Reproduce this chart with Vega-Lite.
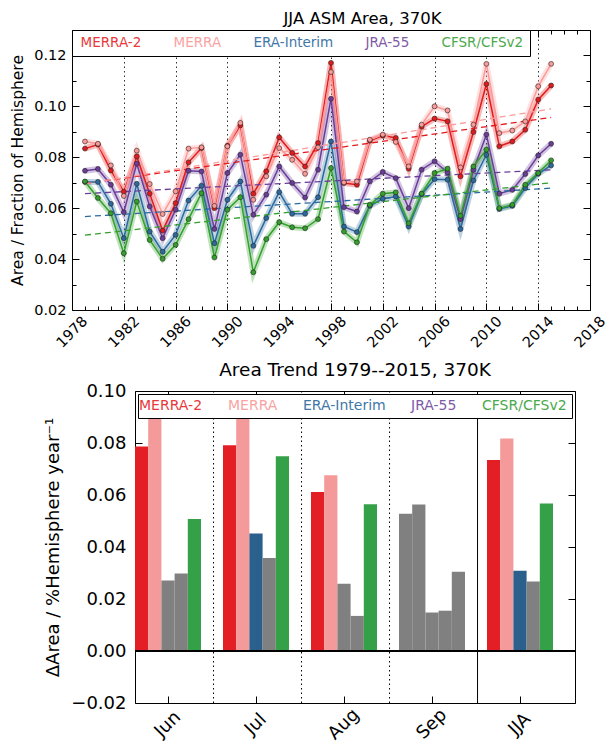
{
  "$schema": "https://vega.github.io/schema/vega-lite/v6.json",
  "background": "white",
  "padding": {"left": 10, "top": 11, "right": 0, "bottom": 0},
  "config": {
    "font": "DejaVu Sans",
    "view": {"stroke": "black", "strokeWidth": 1},
    "axis": {"domain": false, "grid": false, "labelColor": "black", "tickColor": "black", "titleColor": "black", "domainColor": "black", "domainWidth": 1, "titleFontWeight": "normal", "labelFont": "DejaVu Sans", "titleFont": "DejaVu Sans", "labelFlush": false, "labelOverlap": false},
    "title": {"font": "DejaVu Sans", "fontWeight": "normal", "color": "black"}
  },
  "datasets": {
    "series": [
      {"year": 1979, "dataset": "MERRA-2", "value": 0.0834}, {"year": 1980, "dataset": "MERRA-2", "value": 0.0850}, {"year": 1981, "dataset": "MERRA-2", "value": 0.0748}, {"year": 1982, "dataset": "MERRA-2", "value": 0.0665}, {"year": 1983, "dataset": "MERRA-2", "value": 0.0803}, {"year": 1984, "dataset": "MERRA-2", "value": 0.0657}, {"year": 1985, "dataset": "MERRA-2", "value": 0.0512}, {"year": 1986, "dataset": "MERRA-2", "value": 0.0620}, {"year": 1987, "dataset": "MERRA-2", "value": 0.0780}, {"year": 1988, "dataset": "MERRA-2", "value": 0.0836}, {"year": 1989, "dataset": "MERRA-2", "value": 0.0600}, {"year": 1990, "dataset": "MERRA-2", "value": 0.0845}, {"year": 1991, "dataset": "MERRA-2", "value": 0.0925}, {"year": 1992, "dataset": "MERRA-2", "value": 0.0657}, {"year": 1993, "dataset": "MERRA-2", "value": 0.0745}, {"year": 1994, "dataset": "MERRA-2", "value": 0.0878}, {"year": 1995, "dataset": "MERRA-2", "value": 0.0817}, {"year": 1996, "dataset": "MERRA-2", "value": 0.0764}, {"year": 1997, "dataset": "MERRA-2", "value": 0.0856}, {"year": 1998, "dataset": "MERRA-2", "value": 0.1171}, {"year": 1999, "dataset": "MERRA-2", "value": 0.0699}, {"year": 2000, "dataset": "MERRA-2", "value": 0.0692}, {"year": 2001, "dataset": "MERRA-2", "value": 0.0865}, {"year": 2002, "dataset": "MERRA-2", "value": 0.0885}, {"year": 2003, "dataset": "MERRA-2", "value": 0.0876}, {"year": 2004, "dataset": "MERRA-2", "value": 0.0755}, {"year": 2005, "dataset": "MERRA-2", "value": 0.0920}, {"year": 2006, "dataset": "MERRA-2", "value": 0.0952}, {"year": 2007, "dataset": "MERRA-2", "value": 0.0941}, {"year": 2008, "dataset": "MERRA-2", "value": 0.0725}, {"year": 2009, "dataset": "MERRA-2", "value": 0.0899}, {"year": 2010, "dataset": "MERRA-2", "value": 0.1088}, {"year": 2011, "dataset": "MERRA-2", "value": 0.0843}, {"year": 2012, "dataset": "MERRA-2", "value": 0.0862}, {"year": 2013, "dataset": "MERRA-2", "value": 0.0908}, {"year": 2014, "dataset": "MERRA-2", "value": 0.1026}, {"year": 2015, "dataset": "MERRA-2", "value": 0.1082},
      {"year": 1979, "dataset": "MERRA", "value": 0.0862}, {"year": 1980, "dataset": "MERRA", "value": 0.0853}, {"year": 1981, "dataset": "MERRA", "value": 0.0768}, {"year": 1982, "dataset": "MERRA", "value": 0.0648}, {"year": 1983, "dataset": "MERRA", "value": 0.0826}, {"year": 1984, "dataset": "MERRA", "value": 0.0695}, {"year": 1985, "dataset": "MERRA", "value": 0.0577}, {"year": 1986, "dataset": "MERRA", "value": 0.0666}, {"year": 1987, "dataset": "MERRA", "value": 0.0834}, {"year": 1988, "dataset": "MERRA", "value": 0.0839}, {"year": 1989, "dataset": "MERRA", "value": 0.0609}, {"year": 1990, "dataset": "MERRA", "value": 0.0843}, {"year": 1991, "dataset": "MERRA", "value": 0.0935}, {"year": 1992, "dataset": "MERRA", "value": 0.0633}, {"year": 1993, "dataset": "MERRA", "value": 0.0725}, {"year": 1994, "dataset": "MERRA", "value": 0.0836}, {"year": 1995, "dataset": "MERRA", "value": 0.0790}, {"year": 1996, "dataset": "MERRA", "value": 0.0735}, {"year": 1997, "dataset": "MERRA", "value": 0.0839}, {"year": 1998, "dataset": "MERRA", "value": 0.1135}, {"year": 1999, "dataset": "MERRA", "value": 0.0701}, {"year": 2000, "dataset": "MERRA", "value": 0.0705}, {"year": 2001, "dataset": "MERRA", "value": 0.0869}, {"year": 2002, "dataset": "MERRA", "value": 0.0889}, {"year": 2003, "dataset": "MERRA", "value": 0.0860}, {"year": 2004, "dataset": "MERRA", "value": 0.0764}, {"year": 2005, "dataset": "MERRA", "value": 0.0928}, {"year": 2006, "dataset": "MERRA", "value": 0.1000}, {"year": 2007, "dataset": "MERRA", "value": 0.0984}, {"year": 2008, "dataset": "MERRA", "value": 0.0760}, {"year": 2009, "dataset": "MERRA", "value": 0.0928}, {"year": 2010, "dataset": "MERRA", "value": 0.1167}, {"year": 2011, "dataset": "MERRA", "value": 0.0895}, {"year": 2012, "dataset": "MERRA", "value": 0.0905}, {"year": 2013, "dataset": "MERRA", "value": 0.0941}, {"year": 2014, "dataset": "MERRA", "value": 0.1079}, {"year": 2015, "dataset": "MERRA", "value": 0.1167},
      {"year": 1979, "dataset": "ERA-Interim", "value": 0.0703}, {"year": 1980, "dataset": "ERA-Interim", "value": 0.0703}, {"year": 1981, "dataset": "ERA-Interim", "value": 0.0617}, {"year": 1982, "dataset": "ERA-Interim", "value": 0.0482}, {"year": 1983, "dataset": "ERA-Interim", "value": 0.0696}, {"year": 1984, "dataset": "ERA-Interim", "value": 0.0508}, {"year": 1985, "dataset": "ERA-Interim", "value": 0.0429}, {"year": 1986, "dataset": "ERA-Interim", "value": 0.0495}, {"year": 1987, "dataset": "ERA-Interim", "value": 0.0630}, {"year": 1988, "dataset": "ERA-Interim", "value": 0.0688}, {"year": 1989, "dataset": "ERA-Interim", "value": 0.0462}, {"year": 1990, "dataset": "ERA-Interim", "value": 0.0633}, {"year": 1991, "dataset": "ERA-Interim", "value": 0.0705}, {"year": 1992, "dataset": "ERA-Interim", "value": 0.0452}, {"year": 1993, "dataset": "ERA-Interim", "value": 0.0561}, {"year": 1994, "dataset": "ERA-Interim", "value": 0.0663}, {"year": 1995, "dataset": "ERA-Interim", "value": 0.0578}, {"year": 1996, "dataset": "ERA-Interim", "value": 0.0578}, {"year": 1997, "dataset": "ERA-Interim", "value": 0.0643}, {"year": 1998, "dataset": "ERA-Interim", "value": 0.0862}, {"year": 1999, "dataset": "ERA-Interim", "value": 0.0528}, {"year": 2000, "dataset": "ERA-Interim", "value": 0.0506}, {"year": 2001, "dataset": "ERA-Interim", "value": 0.0609}, {"year": 2002, "dataset": "ERA-Interim", "value": 0.0637}, {"year": 2003, "dataset": "ERA-Interim", "value": 0.0646}, {"year": 2004, "dataset": "ERA-Interim", "value": 0.0528}, {"year": 2005, "dataset": "ERA-Interim", "value": 0.0655}, {"year": 2006, "dataset": "ERA-Interim", "value": 0.0714}, {"year": 2007, "dataset": "ERA-Interim", "value": 0.0712}, {"year": 2008, "dataset": "ERA-Interim", "value": 0.0518}, {"year": 2009, "dataset": "ERA-Interim", "value": 0.0709}, {"year": 2010, "dataset": "ERA-Interim", "value": 0.0810}, {"year": 2011, "dataset": "ERA-Interim", "value": 0.0597}, {"year": 2012, "dataset": "ERA-Interim", "value": 0.0609}, {"year": 2013, "dataset": "ERA-Interim", "value": 0.0679}, {"year": 2014, "dataset": "ERA-Interim", "value": 0.0735}, {"year": 2015, "dataset": "ERA-Interim", "value": 0.0768},
      {"year": 1979, "dataset": "JRA-55", "value": 0.0747}, {"year": 1980, "dataset": "JRA-55", "value": 0.0754}, {"year": 1981, "dataset": "JRA-55", "value": 0.0692}, {"year": 1982, "dataset": "JRA-55", "value": 0.0584}, {"year": 1983, "dataset": "JRA-55", "value": 0.0775}, {"year": 1984, "dataset": "JRA-55", "value": 0.0607}, {"year": 1985, "dataset": "JRA-55", "value": 0.0482}, {"year": 1986, "dataset": "JRA-55", "value": 0.0594}, {"year": 1987, "dataset": "JRA-55", "value": 0.0747}, {"year": 1988, "dataset": "JRA-55", "value": 0.0744}, {"year": 1989, "dataset": "JRA-55", "value": 0.0518}, {"year": 1990, "dataset": "JRA-55", "value": 0.0738}, {"year": 1991, "dataset": "JRA-55", "value": 0.0810}, {"year": 1992, "dataset": "JRA-55", "value": 0.0574}, {"year": 1993, "dataset": "JRA-55", "value": 0.0653}, {"year": 1994, "dataset": "JRA-55", "value": 0.0764}, {"year": 1995, "dataset": "JRA-55", "value": 0.0699}, {"year": 1996, "dataset": "JRA-55", "value": 0.0642}, {"year": 1997, "dataset": "JRA-55", "value": 0.0751}, {"year": 1998, "dataset": "JRA-55", "value": 0.1030}, {"year": 1999, "dataset": "JRA-55", "value": 0.0604}, {"year": 2000, "dataset": "JRA-55", "value": 0.0587}, {"year": 2001, "dataset": "JRA-55", "value": 0.0705}, {"year": 2002, "dataset": "JRA-55", "value": 0.0742}, {"year": 2003, "dataset": "JRA-55", "value": 0.0718}, {"year": 2004, "dataset": "JRA-55", "value": 0.0600}, {"year": 2005, "dataset": "JRA-55", "value": 0.0751}, {"year": 2006, "dataset": "JRA-55", "value": 0.0784}, {"year": 2007, "dataset": "JRA-55", "value": 0.0740}, {"year": 2008, "dataset": "JRA-55", "value": 0.0557}, {"year": 2009, "dataset": "JRA-55", "value": 0.0750}, {"year": 2010, "dataset": "JRA-55", "value": 0.0889}, {"year": 2011, "dataset": "JRA-55", "value": 0.0657}, {"year": 2012, "dataset": "JRA-55", "value": 0.0672}, {"year": 2013, "dataset": "JRA-55", "value": 0.0734}, {"year": 2014, "dataset": "JRA-55", "value": 0.0807}, {"year": 2015, "dataset": "JRA-55", "value": 0.0853},
      {"year": 1979, "dataset": "CFSR/CFSv2", "value": 0.0705}, {"year": 1980, "dataset": "CFSR/CFSv2", "value": 0.0640}, {"year": 1981, "dataset": "CFSR/CFSv2", "value": 0.0580}, {"year": 1982, "dataset": "CFSR/CFSv2", "value": 0.0423}, {"year": 1983, "dataset": "CFSR/CFSv2", "value": 0.0626}, {"year": 1984, "dataset": "CFSR/CFSv2", "value": 0.0475}, {"year": 1985, "dataset": "CFSR/CFSv2", "value": 0.0401}, {"year": 1986, "dataset": "CFSR/CFSv2", "value": 0.0456}, {"year": 1987, "dataset": "CFSR/CFSv2", "value": 0.0557}, {"year": 1988, "dataset": "CFSR/CFSv2", "value": 0.0659}, {"year": 1989, "dataset": "CFSR/CFSv2", "value": 0.0406}, {"year": 1990, "dataset": "CFSR/CFSv2", "value": 0.0594}, {"year": 1991, "dataset": "CFSR/CFSv2", "value": 0.0643}, {"year": 1992, "dataset": "CFSR/CFSv2", "value": 0.0348}, {"year": 1993, "dataset": "CFSR/CFSv2", "value": 0.0478}, {"year": 1994, "dataset": "CFSR/CFSv2", "value": 0.0545}, {"year": 1995, "dataset": "CFSR/CFSv2", "value": 0.0525}, {"year": 1996, "dataset": "CFSR/CFSv2", "value": 0.0521}, {"year": 1997, "dataset": "CFSR/CFSv2", "value": 0.0557}, {"year": 1998, "dataset": "CFSR/CFSv2", "value": 0.0758}, {"year": 1999, "dataset": "CFSR/CFSv2", "value": 0.0508}, {"year": 2000, "dataset": "CFSR/CFSv2", "value": 0.0466}, {"year": 2001, "dataset": "CFSR/CFSv2", "value": 0.0613}, {"year": 2002, "dataset": "CFSR/CFSv2", "value": 0.0657}, {"year": 2003, "dataset": "CFSR/CFSv2", "value": 0.0662}, {"year": 2004, "dataset": "CFSR/CFSv2", "value": 0.0541}, {"year": 2005, "dataset": "CFSR/CFSv2", "value": 0.0657}, {"year": 2006, "dataset": "CFSR/CFSv2", "value": 0.0738}, {"year": 2007, "dataset": "CFSR/CFSv2", "value": 0.0755}, {"year": 2008, "dataset": "CFSR/CFSv2", "value": 0.0570}, {"year": 2009, "dataset": "CFSR/CFSv2", "value": 0.0764}, {"year": 2010, "dataset": "CFSR/CFSv2", "value": 0.0830}, {"year": 2011, "dataset": "CFSR/CFSv2", "value": 0.0600}, {"year": 2012, "dataset": "CFSR/CFSv2", "value": 0.0613}, {"year": 2013, "dataset": "CFSR/CFSv2", "value": 0.0692}, {"year": 2014, "dataset": "CFSR/CFSv2", "value": 0.0738}, {"year": 2015, "dataset": "CFSR/CFSv2", "value": 0.0788}
    ],
    "trends": [
      {"month": "Jun", "dataset": "MERRA-2", "value": 0.0787, "significant": true},
      {"month": "Jun", "dataset": "MERRA", "value": 0.095, "significant": true},
      {"month": "Jun", "dataset": "ERA-Interim", "value": 0.0271, "significant": false},
      {"month": "Jun", "dataset": "JRA-55", "value": 0.0298, "significant": false},
      {"month": "Jun", "dataset": "CFSR/CFSv2", "value": 0.0508, "significant": true},
      {"month": "Jul", "dataset": "MERRA-2", "value": 0.0791, "significant": true},
      {"month": "Jul", "dataset": "MERRA", "value": 0.095, "significant": true},
      {"month": "Jul", "dataset": "ERA-Interim", "value": 0.0452, "significant": true},
      {"month": "Jul", "dataset": "JRA-55", "value": 0.0358, "significant": false},
      {"month": "Jul", "dataset": "CFSR/CFSv2", "value": 0.0749, "significant": true},
      {"month": "Aug", "dataset": "MERRA-2", "value": 0.0612, "significant": true},
      {"month": "Aug", "dataset": "MERRA", "value": 0.0676, "significant": true},
      {"month": "Aug", "dataset": "ERA-Interim", "value": 0.0259, "significant": false},
      {"month": "Aug", "dataset": "JRA-55", "value": 0.0135, "significant": false},
      {"month": "Aug", "dataset": "CFSR/CFSv2", "value": 0.0564, "significant": true},
      {"month": "Sep", "dataset": "MERRA-2", "value": 0.0528, "significant": false},
      {"month": "Sep", "dataset": "MERRA", "value": 0.0563, "significant": false},
      {"month": "Sep", "dataset": "ERA-Interim", "value": 0.0148, "significant": false},
      {"month": "Sep", "dataset": "JRA-55", "value": 0.0155, "significant": false},
      {"month": "Sep", "dataset": "CFSR/CFSv2", "value": 0.0305, "significant": false},
      {"month": "JJA", "dataset": "MERRA-2", "value": 0.0735, "significant": true},
      {"month": "JJA", "dataset": "MERRA", "value": 0.0817, "significant": true},
      {"month": "JJA", "dataset": "ERA-Interim", "value": 0.0309, "significant": true},
      {"month": "JJA", "dataset": "JRA-55", "value": 0.0267, "significant": false},
      {"month": "JJA", "dataset": "CFSR/CFSv2", "value": 0.0567, "significant": true}
    ]
  },
  "vconcat": [
    {
      "width": 455,
      "height": 280,
      "view": {"stroke": null},
      "title": {"text": "JJA ASM Area, 370K", "fontSize": 16.5, "offset": 2},
      "data": {"name": "series"},
      "encoding": {
        "color": {
          "field": "dataset", "type": "nominal",
          "scale": {"domain": ["MERRA-2", "MERRA", "ERA-Interim", "JRA-55", "CFSR/CFSv2"], "range": ["#e31a1c", "#fb9a99", "#2a6aa0", "#6a3d9a", "#33a02c"]},
          "legend": {"orient": "none", "legendX": -63, "legendY": 0, "direction": "horizontal", "columns": 5, "title": null, "symbolSize": 0, "symbolOpacity": 0, "symbolStrokeWidth": 0, "labelOffset": -11, "labelFontSize": 13.5, "labelFont": "DejaVu Sans", "columnPadding": 29, "padding": 6, "strokeColor": "black", "fillColor": "white",
            "labelColor": {"expr": "datum.value === 'MERRA-2' ? '#e8383a' : datum.value === 'MERRA' ? '#f9a3a2' : datum.value === 'ERA-Interim' ? '#3f78a8' : datum.value === 'JRA-55' ? '#7f5aa6' : '#4aa94a'"}}
        }
      },
      "layer": [
        {
          "mark": {"type": "line", "strokeWidth": 6, "opacity": 0.3},
          "encoding": {
            "x": {"field": "year", "type": "quantitative", "scale": {"domain": [1978, 2018], "range": [-63, 455], "nice": false, "zero": false},
              "axis": {"orient": "bottom", "title": null, "domain": true, "values": [1978,1979,1980,1981,1982,1983,1984,1985,1986,1987,1988,1989,1990,1991,1992,1993,1994,1995,1996,1997,1998,1999,2000,2001,2002,2003,2004,2005,2006,2007,2008,2009,2010,2011,2012,2013,2014,2015,2016,2017,2018],
                "format": "d", "labelExpr": "datum.value % 4 == 2 ? datum.label : ''", "labelAngle": -45, "labelAlign": "center", "labelBaseline": "middle", "labelFontSize": 14.5, "labelPadding": 29,
                "tickSize": {"condition": {"test": "datum.value % 4 == 2", "value": -7}, "value": -4},
                "grid": true, "gridDash": [1.5, 3], "gridColor": "black",
                "gridOpacity": {"condition": {"test": "datum.value % 4 == 2 && datum.value > 1978 && datum.value < 2018", "value": 0.8}, "value": 0}}},
            "y": {"field": "value", "type": "quantitative", "scale": {"domain": [0.02, 0.13], "nice": false, "zero": false},
              "axis": {"orient": "left", "offset": 63, "domain": true, "title": "Area / Fraction of Hemisphere", "titleFontSize": 15.5, "titlePadding": 8, "values": [0.02,0.03,0.04,0.05,0.06,0.07,0.08,0.09,0.1,0.11,0.12], "format": ".2f",
                "labelExpr": "round(datum.value*100) % 2 == 0 ? datum.label : ''", "labelFontSize": 14.5, "labelPadding": 13,
                "tickSize": {"condition": {"test": "round(datum.value*100) % 2 == 0", "value": -7}, "value": -4}}}
          }
        },
        {
          "mark": {"type": "line", "strokeWidth": 1.5},
          "encoding": {
            "x": {"field": "year", "type": "quantitative", "axis": null},
            "y": {"field": "value", "type": "quantitative", "axis": null}
          }
        },
        {
          "transform": [{"regression": "value", "on": "year", "groupby": ["dataset"]}],
          "mark": {"type": "line", "strokeWidth": 1.3, "strokeDash": [6, 4]},
          "encoding": {
            "x": {"field": "year", "type": "quantitative", "axis": null},
            "y": {"field": "value", "type": "quantitative", "axis": null}
          }
        },
        {
          "mark": {"type": "point", "filled": true, "size": 24, "stroke": "#222222", "strokeWidth": 0.6, "opacity": 1},
          "encoding": {
            "x": {"field": "year", "type": "quantitative",
              "axis": {"orient": "top", "title": null, "labels": false, "domain": true, "values": [1978,1979,1980,1981,1982,1983,1984,1985,1986,1987,1988,1989,1990,1991,1992,1993,1994,1995,1996,1997,1998,1999,2000,2001,2002,2003,2004,2005,2006,2007,2008,2009,2010,2011,2012,2013,2014,2015,2016,2017,2018],
                "tickSize": {"condition": {"test": "datum.value % 4 == 2", "value": -7}, "value": -4}}},
            "y": {"field": "value", "type": "quantitative",
              "axis": {"orient": "right", "title": null, "labels": false, "domain": true, "values": [0.02,0.03,0.04,0.05,0.06,0.07,0.08,0.09,0.1,0.11,0.12],
                "tickSize": {"condition": {"test": "round(datum.value*100) % 2 == 0", "value": -7}, "value": -4}}}
          }
        }
      ],
      "resolve": {"axis": {"x": "independent", "y": "independent"}}
    },
    {
      "width": 440,
      "height": 312,
      "title": {"text": "Area Trend 1979--2015, 370K", "fontSize": 18.5, "offset": 3, "frame": "group"},
      "data": {"name": "trends"},
      "layer": [
        {
          "mark": {"type": "bar"},
          "encoding": {
            "x": {"field": "month", "type": "nominal", "sort": ["Jun", "Jul", "Aug", "Sep", "JJA"],
              "scale": {"paddingInner": 0.25, "paddingOuter": 0.125, "align": 0},
              "axis": {"orient": "bottom", "title": null, "labelAngle": -45, "labelAlign": "center", "labelBaseline": "middle", "labelFontSize": 18, "labelPadding": 28, "tickSize": -7}},
            "xOffset": {"field": "dataset", "type": "nominal", "scale": {"domain": ["MERRA-2", "MERRA", "ERA-Interim", "JRA-55", "CFSR/CFSv2"], "paddingInner": 0, "paddingOuter": 0}},
            "y": {"field": "value", "type": "quantitative", "scale": {"domain": [-0.02, 0.1], "nice": false, "zero": false},
              "axis": {"orient": "left", "title": "ΔArea / %Hemisphere year⁻¹", "titleFontSize": 18, "titlePadding": 8, "values": [-0.02, 0, 0.02, 0.04, 0.06, 0.08, 0.1], "format": ".2f", "labelFontSize": 18, "labelPadding": 16, "tickSize": -7}},
            "color": {
              "condition": {"test": "datum.significant", "field": "dataset", "type": "nominal",
                "scale": {"domain": ["MERRA-2", "MERRA", "ERA-Interim", "JRA-55", "CFSR/CFSv2"], "range": ["#e31e24", "#f49a9a", "#2b5f8c", "#6a3d9a", "#34a048"]},
                "legend": {"orient": "top-left", "offset": 3, "direction": "horizontal", "columns": 5, "title": null, "symbolSize": 0, "symbolOpacity": 0, "symbolStrokeWidth": 0, "labelOffset": -18, "labelFontSize": 14, "labelFont": "DejaVu Sans", "columnPadding": 25, "padding": 5, "strokeColor": "black", "fillColor": "white",
                  "labelColor": {"expr": "datum.value === 'MERRA-2' ? '#e8383a' : datum.value === 'MERRA' ? '#f9a3a2' : datum.value === 'ERA-Interim' ? '#3f78a8' : datum.value === 'JRA-55' ? '#7f5aa6' : '#4aa94a'"}}},
              "value": "#808080"
            }
          }
        },
        {
          "mark": {"type": "rule", "color": "black", "strokeWidth": 1},
          "encoding": {
            "y": {"datum": 0, "type": "quantitative",
              "axis": {"orient": "right", "title": null, "labels": false, "values": [-0.02, 0, 0.02, 0.04, 0.06, 0.08, 0.1], "tickSize": -7}}
          }
        },
        {
          "transform": [{"filter": "datum.dataset === 'MERRA-2' && (datum.month === 'Jun' || datum.month === 'Jul' || datum.month === 'Aug')"}],
          "mark": {"type": "rule", "color": "black", "strokeWidth": 1, "strokeDash": [1.5, 3]},
          "encoding": {
            "x": {"field": "month", "type": "nominal", "sort": ["Jun", "Jul", "Aug", "Sep", "JJA"], "bandPosition": 1.19,
              "axis": {"orient": "top", "title": null, "labels": false, "tickSize": -7}}
          }
        },
        {
          "transform": [{"filter": "datum.dataset === 'MERRA-2' && datum.month === 'Sep'"}],
          "mark": {"type": "rule", "color": "black", "strokeWidth": 1},
          "encoding": {
            "x": {"field": "month", "type": "nominal", "sort": ["Jun", "Jul", "Aug", "Sep", "JJA"], "bandPosition": 1.19, "axis": null}
          }
        }
      ],
      "resolve": {"axis": {"x": "independent", "y": "independent"}}
    }
  ],
  "spacing": 10,
  "resolve": {"scale": {"color": "independent", "x": "independent", "y": "independent", "xOffset": "independent"}, "legend": {"color": "independent"}}
}
